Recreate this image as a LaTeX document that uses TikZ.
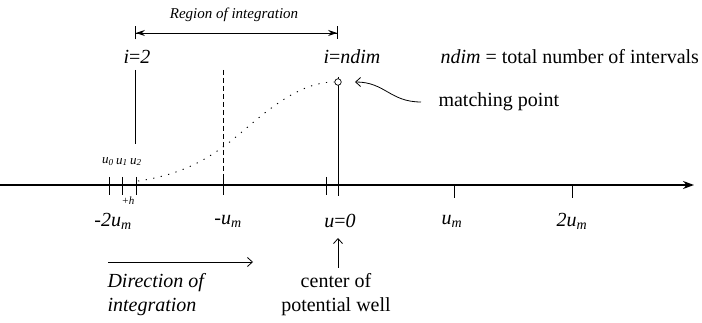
\documentclass[tikz,border=0pt]{standalone}
\usepackage{fontspec}
\setmainfont{Liberation Serif}
\usetikzlibrary{arrows.meta, positioning}

\newcommand{\um}{\textit{u}\textsubscript{\textit{m}}}

\begin{document}
\begin{tikzpicture}[x=1pt, y=-1pt, >=Stealth, font=\fontsize{20}{24}\selectfont,
    barb/.style={-{Straight Barb[length=5pt,width=9pt]}},
    tickline/.style={line width=0.8pt},
    small/.style={font=\fontsize{13}{15}\selectfont\itshape}]
    \useasboundingbox (0,0) rectangle (702,323);

    % axis and ticks
    \coordinate (axl) at (0,185);
    \coordinate (axr) at (694,185);
    \draw[line width=1.6pt, -{Stealth[length=11pt,width=8pt]}] (axl) -- (axr);
    \foreach \x in {109,122,136,223,326} \draw[tickline] (\x,177) -- (\x,195);
    \foreach \x in {454,572} \draw[tickline] (\x,185) -- (\x,198);

    \node (lmtwo) at (113,221) {\textit{-2}\um};
    \node (lmone) at (228,221) {\textit{-}\um};
    \node (lzero) at (340,221) {\textit{u}=\textit{0}};
    \node (lpone) at (452,221) {\um};
    \node (lptwo) at (572,221) {\textit{2}\um};

    % grid points
    \node[small] (uzero) at (108,162) {u\textsubscript{0}};
    \node[small] (uone) at (122,162) {u\textsubscript{1}};
    \node[small] (utwo) at (136,162) {u\textsubscript{2}};
    \node[font=\fontsize{11}{13}\selectfont\itshape] (hstep) at (128,201) {+h};

    % region of integration
    \node[font=\fontsize{15}{18}\selectfont\itshape] (region) at (234,15) {Region of integration};
    \coordinate (rl) at (135,33);
    \coordinate (rr) at (338,33);
    \draw[{Bar[width=13pt]Stealth[length=9pt,width=6pt]}-{Stealth[length=9pt,width=6pt]Bar[width=13pt]}, line width=0.8pt] (rl) -- (rr);

    \node (itwo) at (137,57) {\textit{i}=\textit{2}};
    \node (indim) at (352,57) {\textit{i}=\textit{ndim}};
    \coordinate (ltop) at (135,70);
    \coordinate (lbot) at (135,144);
    \draw[tickline] (ltop) -- (lbot);
    \coordinate (dtop) at (223,70);
    \coordinate (dbot) at (223,196);
    \draw[tickline, dash pattern=on 5pt off 3pt] (dtop) -- (dbot);

    % matching point
    \coordinate (mtop) at (338,77);
    \coordinate (mbot) at (338,196);
    \draw[tickline] (mtop) -- (mbot);
    \node[draw, circle, fill=white, inner sep=0pt, minimum size=6.5pt, line width=0.7pt] (match) at (338,82) {};
    \draw[line width=0.9pt, dash pattern=on 1.2pt off 6.5pt] (138,181) .. controls (180,175) and (205,160) .. (223,147)
        .. controls (250,128) and (290,82) .. (match.west);

    \node[anchor=west] (ndim) at (437,57) {\textit{ndim} = total number of intervals};
    \node[anchor=west] (mpoint) at (435,102) {matching point};
    \coordinate (mstart) at (421,102);
    \coordinate (mtip) at (355,82);
    \draw[barb, line width=0.8pt] (mstart) .. controls (390,102) and (385,82) .. (mtip);

    % centre of the well
    \coordinate (cbot) at (338,268);
    \coordinate (ctop) at (338,238);
    \draw[barb, line width=0.8pt] (cbot) -- (ctop);
    \node[align=center, anchor=north] (centre) at (336,270) {center of\\potential well};

    % direction of integration
    \coordinate (dl) at (108,262);
    \coordinate (dr) at (253,262);
    \draw[barb, line width=0.8pt] (dl) -- (dr);
    \node[align=left, anchor=north west, font=\fontsize{20}{24}\selectfont\itshape] (dir) at (104,270) {Direction of\\integration};
\end{tikzpicture}
\end{document}
